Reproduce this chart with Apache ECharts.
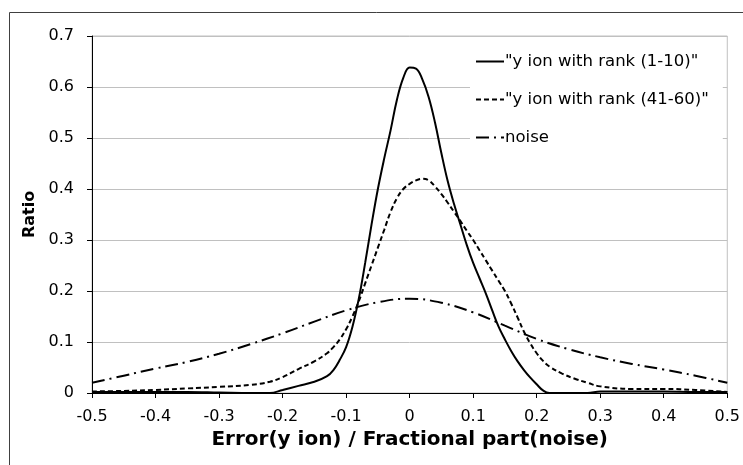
<!DOCTYPE html>
<html>
<head>
<meta charset="utf-8">
<script src="https://cdn.jsdelivr.net/npm/echarts@6/dist/echarts.min.js"></script>
<style>
  html, body { margin: 0; padding: 0; background: #fff; }
  #chart { width: 743px; height: 465px; }
</style>
</head>
<body>
<div id="chart"></div>
<script>
// Error distribution of top-ranked y ions vs. lower-ranked ones, and the noise baseline
const seriesNames = ['"y ion with rank (1-10)"', '"y ion with rank (41-60)"', 'noise'];

const xRank1to10 = [-0.5, -0.45, -0.4, -0.35, -0.3, -0.25, -0.22, -0.2, -0.175, -0.15, -0.13, -0.12, -0.11,
  -0.1, -0.09, -0.08, -0.07, -0.06, -0.05, -0.04, -0.03, -0.02, -0.01, 0, 0.01, 0.02, 0.03, 0.04, 0.05,
  0.06, 0.07, 0.08, 0.09, 0.1, 0.11, 0.12, 0.13, 0.14, 0.15, 0.16, 0.17, 0.18, 0.19, 0.2, 0.21, 0.22,
  0.25, 0.28, 0.3, 0.35, 0.4, 0.45, 0.5];
const yRank1to10 = [0.002, 0.002, 0.002, 0.002, 0.001, 0.0, 0.0, 0.006, 0.014, 0.022, 0.033, 0.045, 0.065,
  0.09, 0.13, 0.185, 0.255, 0.33, 0.4, 0.46, 0.515, 0.575, 0.618, 0.638, 0.636, 0.615, 0.58, 0.53, 0.47,
  0.415, 0.37, 0.33, 0.29, 0.255, 0.225, 0.195, 0.162, 0.13, 0.105, 0.082, 0.062, 0.045, 0.03, 0.017, 0.005, 0.0,
  0.0, 0.0, 0.003, 0.003, 0.003, 0.002, 0.002];

const xRank41to60 = [-0.5, -0.45, -0.4, -0.35, -0.3, -0.25, -0.22, -0.2, -0.175, -0.15, -0.13, -0.12, -0.11,
  -0.1, -0.09, -0.08, -0.07, -0.06, -0.05, -0.04, -0.03, -0.02, -0.01, 0, 0.01, 0.02, 0.03, 0.04, 0.05,
  0.06, 0.07, 0.08, 0.09, 0.1, 0.11, 0.12, 0.13, 0.14, 0.15, 0.16, 0.17, 0.18, 0.19, 0.2, 0.21, 0.22,
  0.24, 0.26, 0.28, 0.3, 0.35, 0.4, 0.45, 0.5];
const yRank41to60 = [0.003, 0.004, 0.006, 0.009, 0.012, 0.016, 0.022, 0.031, 0.047, 0.062, 0.078, 0.09, 0.105,
  0.125, 0.15, 0.18, 0.215, 0.25, 0.285, 0.32, 0.355, 0.382, 0.4, 0.41, 0.417, 0.42, 0.417, 0.405, 0.39,
  0.373, 0.355, 0.337, 0.318, 0.3, 0.28, 0.26, 0.24, 0.22, 0.2, 0.175, 0.148, 0.12, 0.097, 0.078, 0.063, 0.052,
  0.038, 0.028, 0.02, 0.013, 0.008, 0.008, 0.006, 0.002];

const xNoise = [-0.5, -0.45, -0.4, -0.35, -0.3, -0.25, -0.2, -0.15, -0.1, -0.05, 0, 0.05, 0.1, 0.15, 0.2,
  0.25, 0.3, 0.35, 0.4, 0.45, 0.5];
const yNoise = [0.02, 0.034, 0.048, 0.061, 0.077, 0.096, 0.117, 0.14, 0.162, 0.178, 0.185, 0.177, 0.158,
  0.132, 0.106, 0.086, 0.07, 0.057, 0.046, 0.034, 0.02];

const pairs = (xs, ys) => xs.map((x, i) => [x, ys[i]]);

const FONT = '"DejaVu Sans", Verdana, sans-serif';
const chart = echarts.init(document.getElementById('chart'), null, { renderer: 'canvas' });

chart.setOption({
  animation: false,
  backgroundColor: '#fff',
  textStyle: { fontFamily: FONT, color: '#000' },
  graphic: [{
    type: 'rect',
    shape: { x: 9.5, y: 12.5, width: 745, height: 470 },
    style: { fill: 'none', stroke: '#404040', lineWidth: 1 },
    silent: true
  }],
  grid: {
    left: 92, right: 15, top: 36, bottom: 72,
    show: true, borderColor: '#c0c0c0', borderWidth: 1, backgroundColor: 'transparent'
  },
  legend: {
    orient: 'vertical',
    left: 470, top: 41,
    padding: [12, 14, 12, 5],
    itemGap: 21,
    itemWidth: 28,
    itemHeight: 14,
    backgroundColor: '#fff',
    itemStyle: { opacity: 0 },
    lineStyle: { width: 2 },
    textStyle: { fontFamily: FONT, fontSize: 16.5, color: '#000', padding: [0, 0, 0, -4] },
    data: seriesNames
  },
  xAxis: {
    type: 'value',
    min: -0.5, max: 0.5, interval: 0.1,
    name: 'Error(y ion) / Fractional part(noise)',
    nameLocation: 'middle',
    nameGap: 37,
    nameTextStyle: { fontFamily: FONT, fontSize: 20, fontWeight: 'bold', color: '#000' },
    axisLine: { onZero: false, lineStyle: { color: '#000', width: 1 } },
    axisTick: { show: true, inside: false, length: 5, lineStyle: { color: '#000' } },
    axisLabel: {
      fontFamily: FONT, fontSize: 16, color: '#000', margin: 16,
      formatter: v => String(Math.round(v * 10) / 10)
    },
    splitLine: { show: false }
  },
  yAxis: {
    type: 'value',
    min: 0, max: 0.7, interval: 0.1,
    name: 'Ratio',
    nameLocation: 'middle',
    nameGap: 51,
    nameTextStyle: { fontFamily: FONT, fontSize: 16, fontWeight: 'bold', color: '#000' },
    axisLine: { show: true, onZero: false, lineStyle: { color: '#000', width: 1 } },
    axisTick: { show: true, inside: false, length: 5, lineStyle: { color: '#000' } },
    axisLabel: {
      fontFamily: FONT, fontSize: 16, color: '#000', margin: 18,
      formatter: v => String(Math.round(v * 10) / 10)
    },
    splitLine: { show: true, lineStyle: { color: '#c0c0c0', width: 1 } }
  },
  series: [
    {
      name: seriesNames[0], type: 'line', data: pairs(xRank1to10, yRank1to10),
      symbol: 'none', smooth: 0.4,
      lineStyle: { color: '#000', width: 2, type: 'solid' },
      itemStyle: { color: '#000' }, z: 4
    },
    {
      name: seriesNames[1], type: 'line', data: pairs(xRank41to60, yRank41to60),
      symbol: 'none', smooth: 0.4,
      lineStyle: { color: '#000', width: 2, type: [5, 3] },
      itemStyle: { color: '#000' }, z: 3
    },
    {
      name: seriesNames[2], type: 'line', data: pairs(xNoise, yNoise),
      symbol: 'none', smooth: 0.4,
      lineStyle: { color: '#000', width: 2, type: [13, 5, 2, 5] },
      itemStyle: { color: '#000' }, z: 2
    }
  ]
});
</script>
</body>
</html>
